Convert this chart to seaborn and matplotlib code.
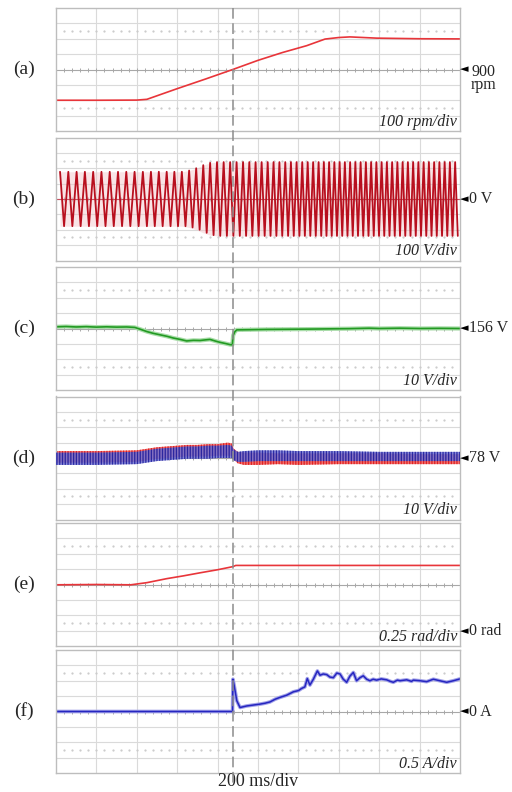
import numpy as np
import pandas as pd
import matplotlib
matplotlib.use('Agg')
import matplotlib.pyplot as plt
from matplotlib.lines import Line2D
import seaborn as sns

event_ms = 875

# (a) rotor speed, rpm
a_t = [0, 200, 400, 450, 597, 740, 875, 1001, 1120, 1241, 1332, 1400, 1455, 1587, 1800, 2000]
a_v = [700, 700, 701, 706, 774, 838, 900, 960, 1010, 1055, 1098, 1108, 1112, 1104, 1100, 1099]

# (b) phase voltage, positive / negative peak of every cycle, V
b_pos_t = [20, 61, 102, 143, 184, 225, 266, 307, 348, 389,
           430, 470, 509, 548, 586, 623, 659, 694, 729, 763, 797, 830, 862, 894, 926,
           957, 988, 1018, 1048, 1077, 1106, 1135, 1163, 1191, 1219, 1246, 1273, 1300, 1326, 1352,
           1378, 1404, 1430, 1456, 1482, 1508, 1534, 1560, 1586, 1612, 1638, 1664,
           1690, 1716, 1742, 1768, 1794, 1820, 1846, 1872, 1898, 1924, 1950, 1976]
b_neg_t = [40, 81, 122, 163, 204, 245, 286, 327, 368, 409,
           450, 489, 528, 567, 604, 641, 676, 711, 746, 780, 813, 846, 878, 910, 941,
           972, 1003, 1033, 1062, 1091, 1120, 1149, 1177, 1205, 1232, 1259, 1286, 1313, 1339, 1365,
           1391, 1417, 1443, 1469, 1495, 1521, 1547, 1573, 1599, 1625, 1651, 1677,
           1703, 1729, 1755, 1781, 1807, 1833, 1859, 1885, 1911, 1937, 1963, 1989]
b_amp = [177] * 16 + [185, 200, 220, 235] + [240] * 44

# (c) dc-link voltage, V
c_t = [0, 50, 100, 150, 200, 250, 300, 350, 390, 420, 450, 480, 515, 550, 581, 615, 647,
       680, 713, 740, 762, 790, 812, 840, 862, 873, 877, 885, 895, 950, 1043, 1150, 1250,
       1373, 1450, 1550, 1600, 1703, 1800, 1900, 2000]
c_v = [157.1, 157.3, 157.0, 157.2, 156.9, 157.1, 156.9, 157.0, 156.7, 155.4, 154.0, 152.9,
       151.9, 150.9, 149.8, 148.9, 147.9, 148.3, 148.2, 148.6, 148.9, 147.8, 147.0, 146.2,
       145.5, 145.4, 151.5, 153.8, 155.1, 155.2, 155.4, 155.5, 155.6, 155.8, 155.9, 156.2,
       156.0, 156.2, 156.0, 156.1, 156.0]

# (d) two capacitor voltages, upper / lower edge of the ripple band, V
d_t = [0, 200, 400, 450, 500, 550, 600, 650, 700, 750, 800, 850, 870, 880, 900, 930,
       1000, 1100, 1200, 1400, 1600, 1800, 2000]
d_red_hi = [82.5, 82.5, 83, 84, 85, 85.5, 86, 86.5, 86.5, 87, 87, 88, 87.5, 84, 82, 81.5,
            81.5, 81, 81, 81, 81, 80.5, 80.5]
d_red_lo = [75, 75, 75.5, 76.5, 77.5, 78, 78.5, 79, 79, 79, 79.5, 79.5, 79.5, 77, 74.5,
            73.5, 73.5, 74, 73.5, 74, 74, 74, 74]
d_blue_hi = [81.5, 81.5, 82, 83, 84, 84.5, 85, 85.5, 85.5, 86, 86, 86.5, 86, 83.5, 82,
             82.5, 83, 83, 82.5, 82.5, 82, 82, 82]
d_blue_lo = [73.5, 73.5, 74, 75, 76, 76.5, 77, 77.5, 77.5, 77.5, 78, 78, 78, 76.5, 75.5,
             75.5, 76, 76, 76, 76, 76, 76, 76]

# (e) angle, rad
e_t = [0, 200, 370, 450, 548, 630, 713, 800, 875, 890, 1200, 1600, 2000]
e_v = [0.745, 0.75, 0.745, 0.78, 0.845, 0.89, 0.94, 0.99, 1.04, 1.06, 1.06, 1.06, 1.06]

# (f) current, A
f_t = [0, 400, 874, 876, 882, 895, 911, 944, 977, 1010, 1035, 1059, 1085, 1109, 1142,
       1175, 1200, 1216, 1232, 1244, 1257, 1274, 1294, 1307, 1323, 1340, 1356, 1373, 1390,
       1406, 1422, 1439, 1455, 1472, 1488, 1505, 1521, 1538, 1554, 1570, 1587, 1610, 1637,
       1655, 1670, 1690, 1703, 1736, 1760, 1769, 1802, 1835, 1868, 1900, 1934, 1967, 2000]
f_v = [0.0, 0.0, 0.0, 1.05, 0.85, 0.35, 0.13, 0.18, 0.21, 0.24, 0.27, 0.31, 0.40, 0.46,
       0.53, 0.64, 0.68, 0.75, 0.80, 1.07, 0.86, 1.05, 1.32, 1.18, 1.22, 1.20, 1.12, 1.10,
       1.25, 1.22, 1.05, 0.95, 1.15, 1.27, 1.00, 1.10, 1.16, 1.05, 1.00, 1.05, 1.02, 1.06,
       1.03, 0.98, 0.95, 1.02, 1.00, 1.03, 0.98, 1.02, 1.00, 0.97, 1.05, 1.00, 0.95, 1.00, 1.06]

panel_tags = ['(a)', '(b)', '(c)', '(d)', '(e)', '(f)']
div_texts = ['100 rpm/div', '100 V/div', '10 V/div', '10 V/div', '0.25 rad/div', '0.5 A/div']
ref_texts = ['900\nrpm', '0 V', '156 V', '78 V', '0 rad', '0 A']
ref_levels = [900, 0, 156, 78, 0, 0]
centers = [900, 0, 156, 78, 0.75, 0]
per_div = [100, 100, 10, 10, 0.25, 0.5]

sns.set_theme(style='white')
plt.rcParams['font.family'] = ['Liberation Serif', 'DejaVu Sans']

W, H = 512, 792
fig = plt.figure(figsize=(W / 100, H / 100), dpi=100)
left, width = 56, 404
tops = [8, 137.5, 267, 396.5, 523, 650]
ph = 123


def screen(ax, c, d):
    ax.set_xlim(0, 2000)
    ax.set_ylim(c - 4 * d, c + 4 * d)
    ax.set_xticks([])
    ax.set_yticks([])
    for x in range(200, 2000, 200):
        ax.axvline(x, color='#dadada', lw=0.8, zorder=0)
    for k in (-3, -2, -1, 1, 2, 3):
        ax.axhline(c + k * d, color='#dadada', lw=0.8, zorder=0)
    ticks = np.arange(40, 2000, 40)
    for k in (-2.5, 2.5):
        ax.plot(ticks, np.full(len(ticks), c + k * d), ls='none', marker='s', ms=0.6,
                color='#cccccc', zorder=0)
    ax.axhline(c, color='#a8a8a8', lw=0.8, zorder=0)
    ax.plot(ticks, np.full(len(ticks), c), ls='none', marker='|', ms=2.5, mew=0.7,
            color='#a8a8a8', zorder=0)
    for s in ax.spines.values():
        s.set_color('#bdbdbd')
        s.set_linewidth(1.0)


axes = []
for i, top in enumerate(tops):
    ax = fig.add_axes([left / W, 1 - (top + ph) / H, width / W, ph / H])
    ax.set_facecolor('white')
    screen(ax, centers[i], per_div[i])
    axes.append(ax)

# (a)
sns.lineplot(x=a_t, y=a_v, ax=axes[0], color='#e8353a', lw=1.2, estimator=None, sort=False)

# (b)
bx, by = [], []
for tp, tn, a in zip(b_pos_t, b_neg_t, b_amp):
    bx += [tp, tn]
    by += [a, -a]
axes[1].fill_between(b_pos_t, [-a for a in b_amp], b_amp, color='#f2c4c8', alpha=0.45, lw=0, zorder=1)
axes[1].axhline(0, color='#c85060', lw=0.8, zorder=1)
sns.lineplot(x=bx, y=by, ax=axes[1], color='#b80f1e', lw=1.3, estimator=None, sort=False)

# (c)
sns.lineplot(x=c_t, y=c_v, ax=axes[2], color='#a8dca8', lw=3.0, estimator=None, sort=False)
sns.lineplot(x=c_t, y=c_v, ax=axes[2], color='#229a22', lw=1.2, estimator=None, sort=False)

# (d)
plt.rcParams['hatch.linewidth'] = 0.9
axes[3].fill_between(d_t, d_red_lo, d_red_hi, facecolor='#f07070', edgecolor='#e02020',
                     hatch='||||||', lw=0, zorder=2)
axes[3].fill_between(d_t, d_blue_lo, d_blue_hi, facecolor='#7070d0', edgecolor='#1c1c9c',
                     hatch='||||||', lw=0, alpha=0.85, zorder=3)

# (e)
sns.lineplot(x=e_t, y=e_v, ax=axes[4], color='#e8353a', lw=1.2, estimator=None, sort=False)

# (f)
sns.lineplot(x=f_t, y=f_v, ax=axes[5], color='#a0a0e8', lw=2.6, estimator=None, sort=False)
sns.lineplot(x=f_t, y=f_v, ax=axes[5], color='#2626c0', lw=1.1, estimator=None, sort=False)

for ax in axes:
    ax.set_xlabel('')
    ax.set_ylabel('')
    ax.set_xlim(0, 2000)

# event marker across all screens
xe = (left + event_ms / 2000 * width) / W
fig.add_artist(Line2D([xe, xe], [1 - 8 / H, 1 - 785 / H], transform=fig.transFigure,
                      color='#8c8c8c', lw=1.1, dashes=(7, 3), zorder=10))

for i, top in enumerate(tops):
    yc = top + ph / 2
    fig.text(24 / W, 1 - yc / H, panel_tags[i], ha='center', va='center', fontsize=14)
    fig.text(457 / W, 1 - (top + ph - 9) / H, div_texts[i], ha='right', va='center',
             fontsize=11.5, style='italic')
    yr = yc - (ref_levels[i] - centers[i]) / per_div[i] * ph / 8
    fig.text(460 / W, 1 - yr / H, '\u25c4', ha='left', va='center', fontsize=8,
             family='DejaVu Sans', color='black')
    if i == 0:
        # two-line label, first line sits on the reference level
        fig.text(471 / W, 1 - (yr - 6) / H, ref_texts[i], ha='left', va='top',
                 fontsize=11.5, linespacing=0.8)
    else:
        fig.text(469 / W, 1 - yr / H, ref_texts[i], ha='left', va='center', fontsize=11.5)

fig.text(258 / W, 1 - 782 / H, '200 ms/div', ha='center', va='center', fontsize=13)

fig.savefig('out.png', dpi=100)
